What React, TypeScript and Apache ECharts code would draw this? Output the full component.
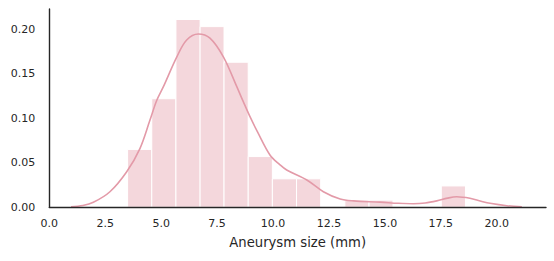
import React, { useEffect, useRef } from "react";
import * as echarts from "echarts";

const binEdges = [3.5, 4.58, 5.66, 6.74, 7.81, 8.89, 9.97, 11.05, 12.13, 13.21, 14.29, 15.36, 16.44, 17.52, 18.6];
const binDensity = [0.065, 0.122, 0.211, 0.203, 0.163, 0.057, 0.032, 0.032, 0, 0.008, 0.008, 0, 0, 0.024];

const kdeX = [0.97, 1.5, 1.97, 2.71, 3.46, 4.05, 4.5, 4.8, 5.1, 5.7, 6.14, 6.66, 7.18, 7.78, 8.38, 8.67, 8.97, 9.3, 9.87, 10.3, 10.61, 11.51, 12.25, 13.0, 13.6, 14.78, 15.6, 16.27, 16.8, 17.32, 17.8, 18.21, 18.8, 19.3, 19.7, 20.45, 21.12];
const kdeY = [0.0007, 0.002, 0.0056, 0.0175, 0.04, 0.066, 0.098, 0.12, 0.1355, 0.169, 0.188, 0.1947, 0.19, 0.169, 0.1355, 0.1187, 0.1018, 0.085, 0.0585, 0.048, 0.0419, 0.0307, 0.0175, 0.0093, 0.0072, 0.0058, 0.0045, 0.004, 0.0048, 0.0072, 0.0103, 0.0118, 0.0101, 0.0068, 0.0045, 0.0018, 0.0006];

const xTickStep = 2.5;
const yTickStep = 0.05;
const xLabel = "Aneurysm size (mm)";

const LINE = "#e39aa8";
const BAR = "#f4d7dc";
const TEXT = "#262626";
const FONT = "DejaVu Sans";

export default function App() {
  const ref = useRef<HTMLDivElement>(null);
  useEffect(() => {
    if (!ref.current) return;
    const chart = echarts.init(ref.current, undefined, { renderer: "svg" });
    const histData = binDensity.map((d, i) => [binEdges[i], binEdges[i + 1], d]);
    const kdeData = kdeX.map((x, i) => [x, kdeY[i]]);
    chart.setOption({
      animation: false,
      grid: { left: 49.3, right: 8, top: 9, bottom: 53.7, containLabel: false },
      xAxis: {
        type: "value",
        min: 0,
        max: 22.2,
        interval: xTickStep,
        z: 10,
        name: xLabel,
        nameLocation: "middle",
        nameGap: 29,
        nameTextStyle: { color: TEXT, fontSize: 13.2, fontFamily: FONT },
        axisLine: { show: true, onZero: false, lineStyle: { color: TEXT, width: 1.4 } },
        axisTick: { show: false },
        splitLine: { show: false },
        axisLabel: {
          color: TEXT,
          fontSize: 11,
          fontFamily: FONT,
          margin: 11,
          showMaxLabel: false,
          formatter: (v: number) => v.toFixed(1),
        },
      },
      yAxis: {
        type: "value",
        min: 0,
        max: 0.2228,
        interval: yTickStep,
        z: 10,
        axisLine: { show: true, lineStyle: { color: TEXT, width: 1.4 } },
        axisTick: { show: false },
        splitLine: { show: false },
        axisLabel: {
          color: TEXT,
          fontSize: 11,
          fontFamily: FONT,
          margin: 14,
          showMaxLabel: false,
          formatter: (v: number) => v.toFixed(2),
        },
      },
      series: [
        {
          type: "custom",
          data: histData,
          encode: { x: [0, 1], y: 2 },
          renderItem: (params: any, api: any) => {
            const x0 = api.value(0);
            const x1 = api.value(1);
            const h = api.value(2);
            if (!h) return null;
            const p0 = api.coord([x0, h]);
            const p1 = api.coord([x1, 0]);
            return {
              type: "rect",
              shape: { x: p0[0], y: p0[1], width: p1[0] - p0[0], height: p1[1] - p0[1] },
              style: { fill: BAR, stroke: "#ffffff", lineWidth: 1 },
            };
          },
          z: 1,
        },
        {
          type: "line",
          data: kdeData,
          smooth: 0.35,
          symbol: "none",
          lineStyle: { color: LINE, width: 1.6 },
          z: 2,
        },
      ],
    });
    return () => chart.dispose();
  }, []);
  return <div ref={ref} style={{ width: 554, height: 261, position: "absolute", left: 0, top: 0 }} />;
}
